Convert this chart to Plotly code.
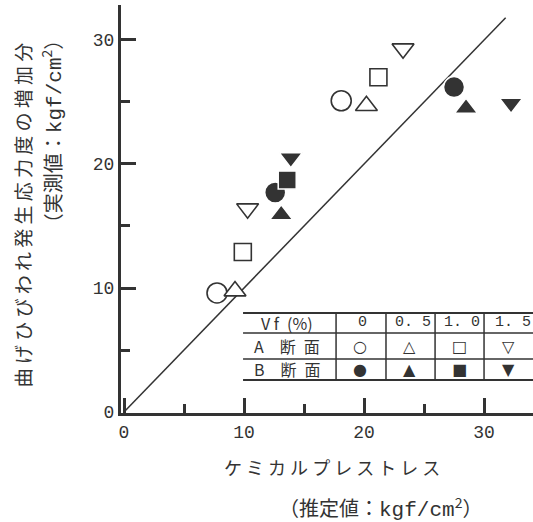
import plotly.graph_objects as go

# ---- data ----
vf_levels = ["0", "0. 5", "1. 0", "1. 5"]

A0_x = [7.75, 18.1];  A0_y = [9.6, 25.1]
A05_x = [9.25, 20.2]; A05_y = [9.75, 24.7]
A10_x = [9.9, 21.2];  A10_y = [12.9, 27.0]
A15_x = [10.3, 23.25]; A15_y = [16.4, 29.3]

B0_x = [12.6, 27.5];  B0_y = [17.7, 26.2]
B05_x = [13.1, 28.5]; B05_y = [15.9, 24.5]
B10_x = [13.6];       B10_y = [18.7]
B15_x = [13.9, 32.25]; B15_y = [20.5, 24.9]

line_x = [0, 31.8]
line_y = [0, 31.8]

x_ticks = [0, 10, 20, 30]
y_ticks = [0, 10, 20, 30]

INK = "#333333"
JP = "Noto Sans CJK JP"
NUM = "Liberation Mono, monospace"
SYM = "DejaVu Sans"

fig = go.Figure()

fig.add_trace(go.Scatter(x=line_x, y=line_y, mode="lines",
                         line=dict(color=INK, width=1.5), showlegend=False))

def open_trace(x, y, sym, size):
    fig.add_trace(go.Scatter(x=x, y=y, mode="markers", showlegend=False,
                             marker=dict(symbol=sym, size=size, color="white",
                                         line=dict(color=INK, width=1.6))))

def filled_trace(x, y, sym, size):
    fig.add_trace(go.Scatter(x=x, y=y, mode="markers", showlegend=False,
                             marker=dict(symbol=sym, size=size, color=INK,
                                         line=dict(color="white", width=1.5))))

open_trace(A0_x, A0_y, "circle", 20)
open_trace(A05_x, A05_y, "triangle-up", 19)
open_trace(A10_x, A10_y, "square", 17)
open_trace(A15_x, A15_y, "triangle-down", 19)

filled_trace(B0_x, B0_y, "circle", 21)
filled_trace(B05_x, B05_y, "triangle-up", 20)
filled_trace(B15_x, B15_y, "triangle-down", 20)
filled_trace(B10_x, B10_y, "square", 18)

# ---- table (legend) ----
tx0, tx1 = 9.92, 34.1
row_lines = [7.98, 6.37, 4.27, 2.58]
col_lines = [17.67, 21.83, 25.92, 30.0]
for i, ry in enumerate(row_lines):
    fig.add_shape(type="line", x0=tx0, x1=tx1, y0=ry, y1=ry,
                  line=dict(color=INK, width=2 if i in (0, 3) else 1.5))
for cx in col_lines:
    fig.add_shape(type="line", x0=cx, x1=cx, y0=row_lines[0], y1=row_lines[3],
                  line=dict(color=INK, width=1.5))

col_centers = [19.9, 24.1, 28.2, 32.4]
sym_centers = [19.7, 23.8, 27.96, 32.0]
y_head, y_a, y_b = 7.18, 5.32, 3.43
label_x = 13.6

fig.add_annotation(x=label_x, y=y_head, text="V f\u2002(%)", showarrow=False,
                   xanchor="center", yanchor="middle",
                   font=dict(family=JP, size=16, color=INK))
fig.add_annotation(x=label_x, y=y_a, text="A\u2003断\u2002面", showarrow=False,
                   xanchor="center", yanchor="middle",
                   font=dict(family=JP, size=16, color=INK))
fig.add_annotation(x=label_x, y=y_b, text="B\u2003断\u2002面", showarrow=False,
                   xanchor="center", yanchor="middle",
                   font=dict(family=JP, size=16, color=INK))

a_syms = ["○", "△", "□", "▽"]
b_syms = ["●", "▲", "■", "▼"]
for i in range(4):
    fig.add_annotation(x=col_centers[i], y=y_head, text=vf_levels[i], showarrow=False,
                       xanchor="center", yanchor="middle",
                       font=dict(family=NUM, size=15, color=INK))
    fig.add_annotation(x=sym_centers[i], y=y_a, text=a_syms[i], showarrow=False,
                       xanchor="center", yanchor="middle",
                       font=dict(family=SYM, size=16, color=INK))
    fig.add_annotation(x=sym_centers[i], y=y_b, text=b_syms[i], showarrow=False,
                       xanchor="center", yanchor="middle",
                       font=dict(family=SYM, size=16, color=INK))

# ---- axis titles ----
sp = " "
unit = ("：<span style='font-family:Liberation Mono;font-size:21px'>kgf/cm</span>"
        "<sup>2</sup>）")
ytitle1 = sp.join("曲げひびわれ発生応力度の増加分")
ytitle2 = "（実測値" + unit
xtitle1 = sp.join("ケミカルプレストレス")
xtitle2 = "（推定値" + unit

fig.add_annotation(xref="paper", yref="paper", x=-0.24, y=0.485, text=ytitle1,
                   xanchor="center", yanchor="middle",
                   textangle=-90, showarrow=False, font=dict(family=JP, size=19, color=INK))
fig.add_annotation(xref="paper", yref="paper", x=-0.168, y=0.944, yanchor="top",
                   xanchor="center",
                   text=ytitle2, textangle=-90, showarrow=False,
                   font=dict(family=JP, size=20, color=INK))
fig.add_annotation(xref="paper", yref="paper", x=0.512, y=-0.132, text=xtitle1,
                   xanchor="center", yanchor="middle",
                   showarrow=False, font=dict(family=JP, size=18, color=INK))
fig.add_annotation(xref="paper", yref="paper", x=0.631, y=-0.230, text=xtitle2,
                   xanchor="center", yanchor="middle",
                   showarrow=False, font=dict(family=JP, size=20, color=INK))

axis_common = dict(showline=True, linewidth=3, linecolor=INK, showgrid=False,
                   zeroline=False, ticks="inside", ticklen=15, tickwidth=3,
                   tickcolor=INK, tickfont=dict(family=NUM, size=18, color=INK),
                   minor=dict(ticks="inside", ticklen=9, tickwidth=3,
                              tickcolor=INK, dtick=5, showgrid=False))

fig.update_xaxes(range=[-0.25, 34.08], tickvals=x_ticks, **axis_common)
fig.update_yaxes(range=[-0.08, 32.82], tickvals=y_ticks, **axis_common)

fig.update_layout(width=533, height=522, margin=dict(l=121, r=0, t=5, b=109),
                  plot_bgcolor="white", paper_bgcolor="white", showlegend=False)

fig.write_html("out.html", config={"displayModeBar": False},
               post_script="document.body.style.margin='0';document.body.style.padding='0';")
